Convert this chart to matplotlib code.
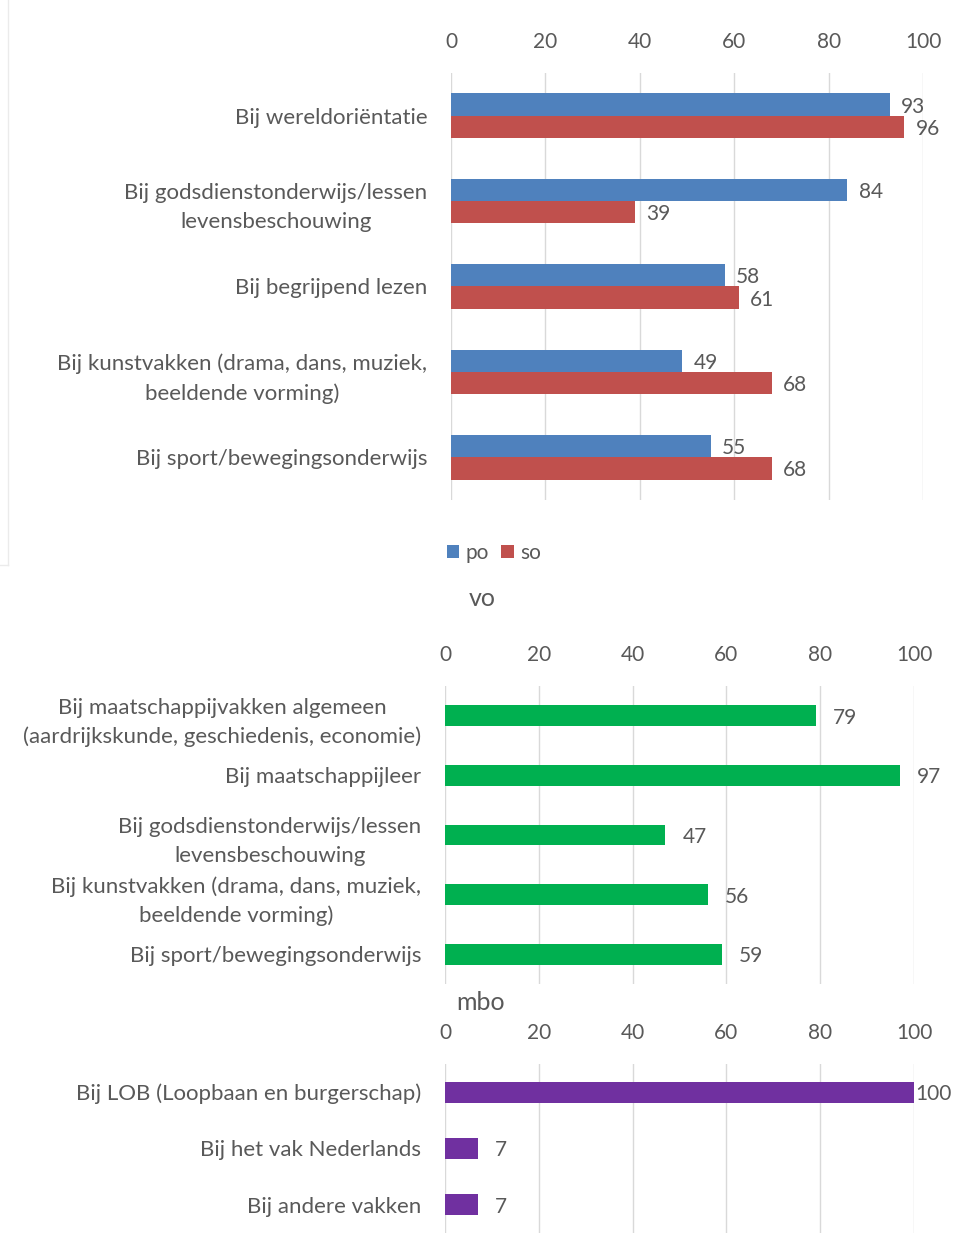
import numpy as np
import matplotlib
matplotlib.use('Agg')
import matplotlib.pyplot as plt
from matplotlib.lines import Line2D

plt.rcParams['font.family'] = ['Lato', 'DejaVu Sans']
TXT = '#595959'
GRID = '#D9D9D9'
FS_LAB = 16
FS_NUM = 15

# po / so
cats1 = ['Bij wereldoriëntatie',
         'Bij godsdienstonderwijs/lessen\nlevensbeschouwing',
         'Bij begrijpend lezen',
         'Bij kunstvakken (drama, dans, muziek,\nbeeldende vorming)',
         'Bij sport/bewegingsonderwijs']
po = [93, 84, 58, 49, 55]
so = [96, 39, 61, 68, 68]

# vo
cats2 = ['Bij maatschappijvakken algemeen\n(aardrijkskunde, geschiedenis, economie)',
         'Bij maatschappijleer',
         'Bij godsdienstonderwijs/lessen\nlevensbeschouwing',
         'Bij kunstvakken (drama, dans, muziek,\nbeeldende vorming)',
         'Bij sport/bewegingsonderwijs']
vo = [79, 97, 47, 56, 59]

# mbo
cats3 = ['Bij LOB (Loopbaan en burgerschap)',
         'Bij het vak Nederlands',
         'Bij andere vakken']
mbo = [100, 7, 7]

xticks = [0, 20, 40, 60, 80, 100]

W, H = 955, 1247
fig = plt.figure(figsize=(W / 100, H / 100), dpi=100)


def make_ax(x0, x1, y0, y1):
    return fig.add_axes([x0 / W, 1 - y1 / H, (x1 - x0) / W, (y1 - y0) / H])


def style(ax, cats):
    ax.set_xlim(0, 100)
    ax.set_ylim(len(cats) - 0.5, -0.5)
    ax.set_xticks(xticks)
    ax.xaxis.tick_top()
    ax.tick_params(axis='x', length=0, pad=15, labelsize=FS_NUM, labelcolor=TXT)
    ax.tick_params(axis='y', length=0, pad=17, labelsize=FS_LAB, labelcolor=TXT)
    ax.set_yticks(range(len(cats)))
    ax.set_yticklabels(cats, multialignment='center', linespacing=1.55)
    for s in ax.spines.values():
        s.set_visible(False)
    ax.grid(axis='x', color=GRID, linewidth=1)
    ax.set_axisbelow(True)


def num(ax, x, y, v):
    ax.text(x, y, str(v), va='center_baseline', ha='left', fontsize=FS_NUM, color=TXT)


# panel 1
ax1 = make_ax(451, 923, 73, 500)
y = np.arange(len(cats1))
h = 0.26
b1 = ax1.barh(y - h / 2, po, height=h, color='#4F81BD', label='po')
b2 = ax1.barh(y + h / 2, so, height=h, color='#C0504D', label='so')
style(ax1, cats1)
for yy, v in zip(y, po):
    num(ax1, v + 2.4, yy - h / 2, v)
for yy, v in zip(y, so):
    num(ax1, v + 2.4, yy + h / 2, v)
fig.legend(handles=[b1, b2], labels=['po', 'so'], loc='center left',
           bbox_to_anchor=(428 / W, 1 - 553 / H), ncol=2, frameon=False,
           handlelength=0.6, handleheight=0.6, handletextpad=0.3,
           columnspacing=0.6, fontsize=FS_NUM, labelcolor=TXT)
fig.text(482 / W, 1 - 598 / H, 'vo', ha='center', va='center', fontsize=18, color=TXT)

# panel 2
ax2 = make_ax(445, 914, 686, 984)
y2 = np.arange(len(cats2))
ax2.barh(y2, vo, height=0.35, color='#00B050')
style(ax2, cats2)
for yy, v in zip(y2, vo):
    num(ax2, v + 3.6, yy, v)
fig.text(481 / W, 1 - 1002 / H, 'mbo', ha='center', va='center', fontsize=18, color=TXT)

# panel 3
ax3 = make_ax(445, 914, 1064, 1233)
y3 = np.arange(len(cats3))
ax3.barh(y3, mbo, height=0.37, color='#7030A0')
style(ax3, cats3)
for yy, v in zip(y3, mbo):
    num(ax3, v + (0.3 if v >= 100 else 3.6), yy, v)

# faint frame edge of the first chart
fig.add_artist(Line2D([8 / W, 8 / W], [1, 1 - 565 / H], color='#EBEBEB', lw=1))
fig.add_artist(Line2D([0, 8 / W], [1 - 565 / H, 1 - 565 / H], color='#EBEBEB', lw=1))

fig.savefig('out.png', dpi=100)
